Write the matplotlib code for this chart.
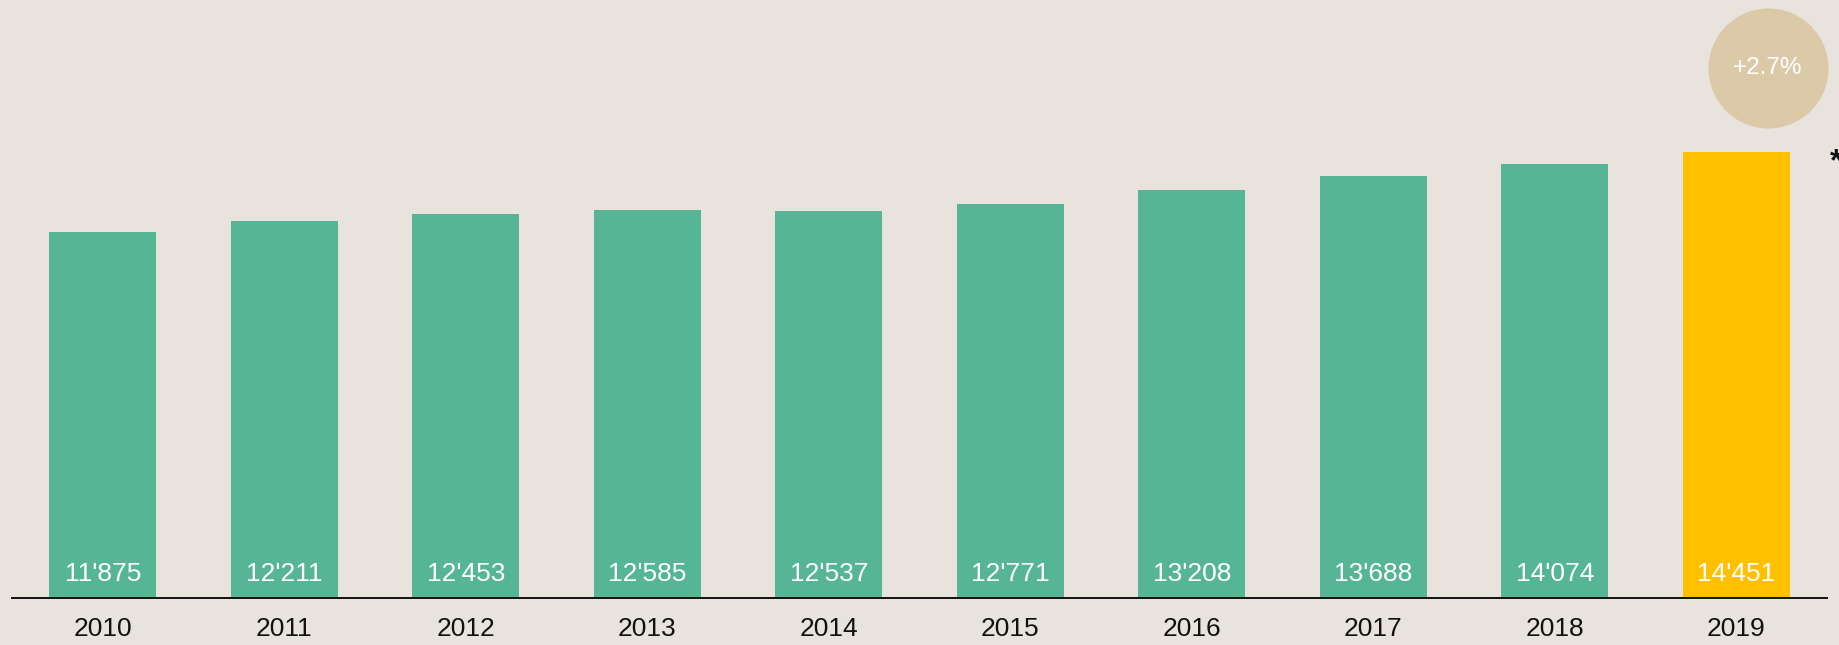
import matplotlib
matplotlib.use("Agg")
import matplotlib.pyplot as plt
from matplotlib.transforms import offset_copy

years = ["2010", "2011", "2012", "2013", "2014", "2015", "2016", "2017", "2018", "2019"]
values = [11875, 12211, 12453, 12585, 12537, 12771, 13208, 13688, 14074, 14451]
value_labels = ["11'875", "12'211", "12'453", "12'585", "12'537", "12'771", "13'208", "13'688", "14'074", "14'451"]

BG = "#E8E3DD"
GREEN = "#56B594"
YELLOW = "#FFC000"
TAN = "#DBC9A8"

plt.rcParams['font.family'] = ['Liberation Sans', 'DejaVu Sans']

fig = plt.figure(figsize=(18.4, 6.45), dpi=100, facecolor=BG)
ax = fig.add_axes([12 / 1840, 47 / 645, 1815 / 1840, 598 / 645])
ax.set_facecolor(BG)

x = list(range(len(years)))
colors = [GREEN] * (len(years) - 1) + [YELLOW]
ax.bar(x, values, width=0.59, color=colors, zorder=2)

ax.set_xlim(-0.5, len(years) - 0.5)
ax.set_ylim(0, 19380)

for s in ["top", "left", "right"]:
    ax.spines[s].set_visible(False)
ax.spines["bottom"].set_color("#111111")
ax.spines["bottom"].set_linewidth(1.4)
ax.spines["bottom"].set_zorder(3)
ax.set_yticks([])
ax.set_xticks(x)
ax.set_xticklabels(years, fontsize=19, color="#111111")
ax.tick_params(axis="x", length=0, pad=13.5)

for xi, v, lab in zip(x, values, value_labels):
    ax.annotate(lab, (xi, 0), xytext=(0, 12), textcoords="offset points",
                ha="center", va="baseline", color="white", fontsize=19, zorder=4)

# growth bubble for last year
growth = (values[-1] / values[-2] - 1) * 100
trans = offset_copy(ax.transData, fig=fig, x=22.7, y=60.5, units="points")
ax.scatter([x[-1]], [values[-1]], s=86.4 ** 2, color=TAN, transform=trans,
           clip_on=False, zorder=5, linewidths=0)
ax.text(x[-1], values[-1], f"+{growth:.1f}%", transform=trans, ha="center", va="center",
        color="white", fontsize=17.5, zorder=6)

# asterisk
trans2 = offset_copy(ax.transData, fig=fig, x=71.6, y=-13, units="points")
ax.text(x[-1], values[-1], "*", transform=trans2, ha="center", va="baseline",
        color="#111111", fontsize=23, fontweight="bold", clip_on=False)

fig.savefig("out.png", dpi=100, facecolor=BG)
